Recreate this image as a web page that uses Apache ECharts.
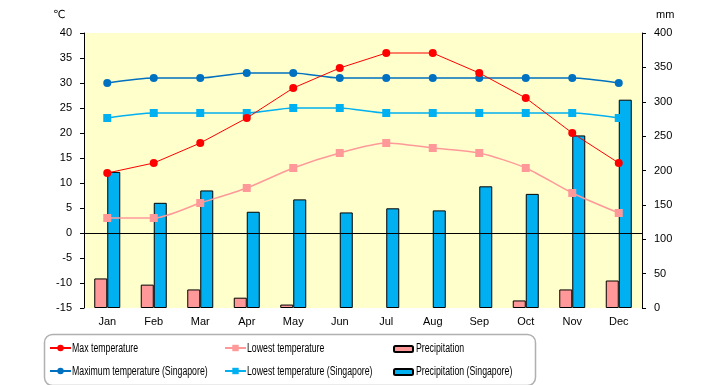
<!DOCTYPE html>
<html><head><meta charset="utf-8">
<script src="https://cdn.jsdelivr.net/npm/echarts@6/dist/echarts.min.js"></script>
<style>html,body{margin:0;padding:0;background:#fff}#c{width:720px;height:385px}</style>
</head><body><div id="c"></div>
<script>
const months = ['Jan','Feb','Mar','Apr','May','Jun','Jul','Aug','Sep','Oct','Nov','Dec'];
const maxTemp = [12,14,18,23,29,33,36,36,32,27,20,14];
const lowTemp = [3,3,6,9,13,16,18,17,16,13,8,4];
const precip = [43,34,27,15,5,0,0,0,0,11,27,40];
const sgMax = [30,31,31,32,32,31,31,31,31,31,31,30];
const sgLow = [23,24,24,24,25,25,24,24,24,24,24,23];
const sgPrecip = [198,153,171,140,158,139,145,142,177,166,251,303];
const tempTicks = {min:-15, max:40, interval:5};
const precipTicks = {min:0, max:400, interval:50};
const seriesNames = ['Max temperature','Maximum temperature (Singapore)','Lowest temperature','Lowest temperature (Singapore)','Precipitation','Precipitation (Singapore)'];

const FONT = '"Liberation Sans",Arial,sans-serif';
const chart = echarts.init(document.getElementById('c'));
const axisCommon = {
  axisLine:{show:true,lineStyle:{color:'#000',width:1}},
  axisTick:{show:true,length:4,lineStyle:{color:'#000'}},
  splitLine:{show:false},
  axisLabel:{color:'#000',fontSize:11,fontFamily:FONT,margin:12}
};
const legPos = [[49,348],[49,371],[224,348],[224,371],[393,348],[393,371]];
function leg(i){
  const isBar = i>=4;
  return {orient:'horizontal',left:legPos[i][0],top:legPos[i][1]-(isBar?3:4),padding:0,
    itemWidth:isBar?19:21,itemHeight:isBar?6:8,itemGap:0,formatter:()=>'',
    textStyle:{fontSize:1,padding:0},data:[seriesNames[i]]};
}
function legText(i){
  return {type:'text',x:legPos[i][0]+23,y:legPos[i][1]+1,scaleX:0.7,silent:true,
    style:{text:seriesNames[i],fontSize:12.5,fontFamily:FONT,fill:'#000',verticalAlign:'middle'}};
}
const zeroOnPrecipAxis = (0-tempTicks.min)/(tempTicks.max-tempTicks.min)*(precipTicks.max-precipTicks.min)+precipTicks.min;
chart.setOption({
  animation:false,
  textStyle:{fontFamily:FONT},
  grid:{left:84,right:78,top:33,bottom:77,show:true,backgroundColor:'#FFFFCC',borderWidth:0},
  xAxis:{type:'category',data:months,
    axisLine:{show:false},axisTick:{show:false},
    axisLabel:{color:'#000',fontSize:11,fontFamily:FONT,margin:8}},
  yAxis:[
    Object.assign({type:'value',position:'left'},tempTicks,axisCommon),
    Object.assign({type:'value',position:'right'},precipTicks,axisCommon)
  ],
  legend:[0,1,2,3,4,5].map(leg),
  graphic:[
    {type:'rect',left:42,top:332,shape:{width:491,height:51,r:8},style:{fill:'none',stroke:'#b0b0b0',lineWidth:1.5},silent:true},
    {type:'text',left:53,top:10,style:{text:'℃',fontSize:11,fill:'#000',fontFamily:'"DejaVu Sans",sans-serif'}},
    {type:'text',left:656,top:9,style:{text:'mm',fontSize:11,fill:'#000',fontFamily:FONT}}
  ].concat([0,1,2,3,4,5].map(legText)),
  series:[
    {name:seriesNames[4],type:'bar',yAxisIndex:1,data:precip.map(v=>v===0?null:v),barWidth:13,barGap:'0%',z:2,
     itemStyle:{color:'#FF9999',borderColor:'#000',borderWidth:1},
     markLine:{silent:true,symbol:'none',label:{show:false},lineStyle:{color:'#000',width:1,type:'solid'},
       data:[{yAxis:zeroOnPrecipAxis}]}},
    {name:seriesNames[5],type:'bar',yAxisIndex:1,data:sgPrecip,barWidth:13,barGap:'0%',z:2,
     itemStyle:{color:'#00B0F0',borderColor:'#000',borderWidth:1}},
    {name:seriesNames[0],type:'line',yAxisIndex:0,data:maxTemp,z:4,symbol:'circle',symbolSize:8,
     itemStyle:{color:'#FF0000'},lineStyle:{color:'#FF0000',width:1}},
    {name:seriesNames[2],type:'line',yAxisIndex:0,data:lowTemp,z:3,symbol:'rect',symbolSize:8,smooth:0.25,
     itemStyle:{color:'#FF9999'},lineStyle:{color:'#FF9999',width:1.5}},
    {name:seriesNames[1],type:'line',yAxisIndex:0,data:sgMax,z:3,symbol:'circle',symbolSize:8,smooth:0.25,
     itemStyle:{color:'#0070C0'},lineStyle:{color:'#0070C0',width:1.5}},
    {name:seriesNames[3],type:'line',yAxisIndex:0,data:sgLow,z:3,symbol:'rect',symbolSize:8,smooth:0.25,
     itemStyle:{color:'#00B0F0'},lineStyle:{color:'#00B0F0',width:1.5}}
  ]
});
</script></body></html>
